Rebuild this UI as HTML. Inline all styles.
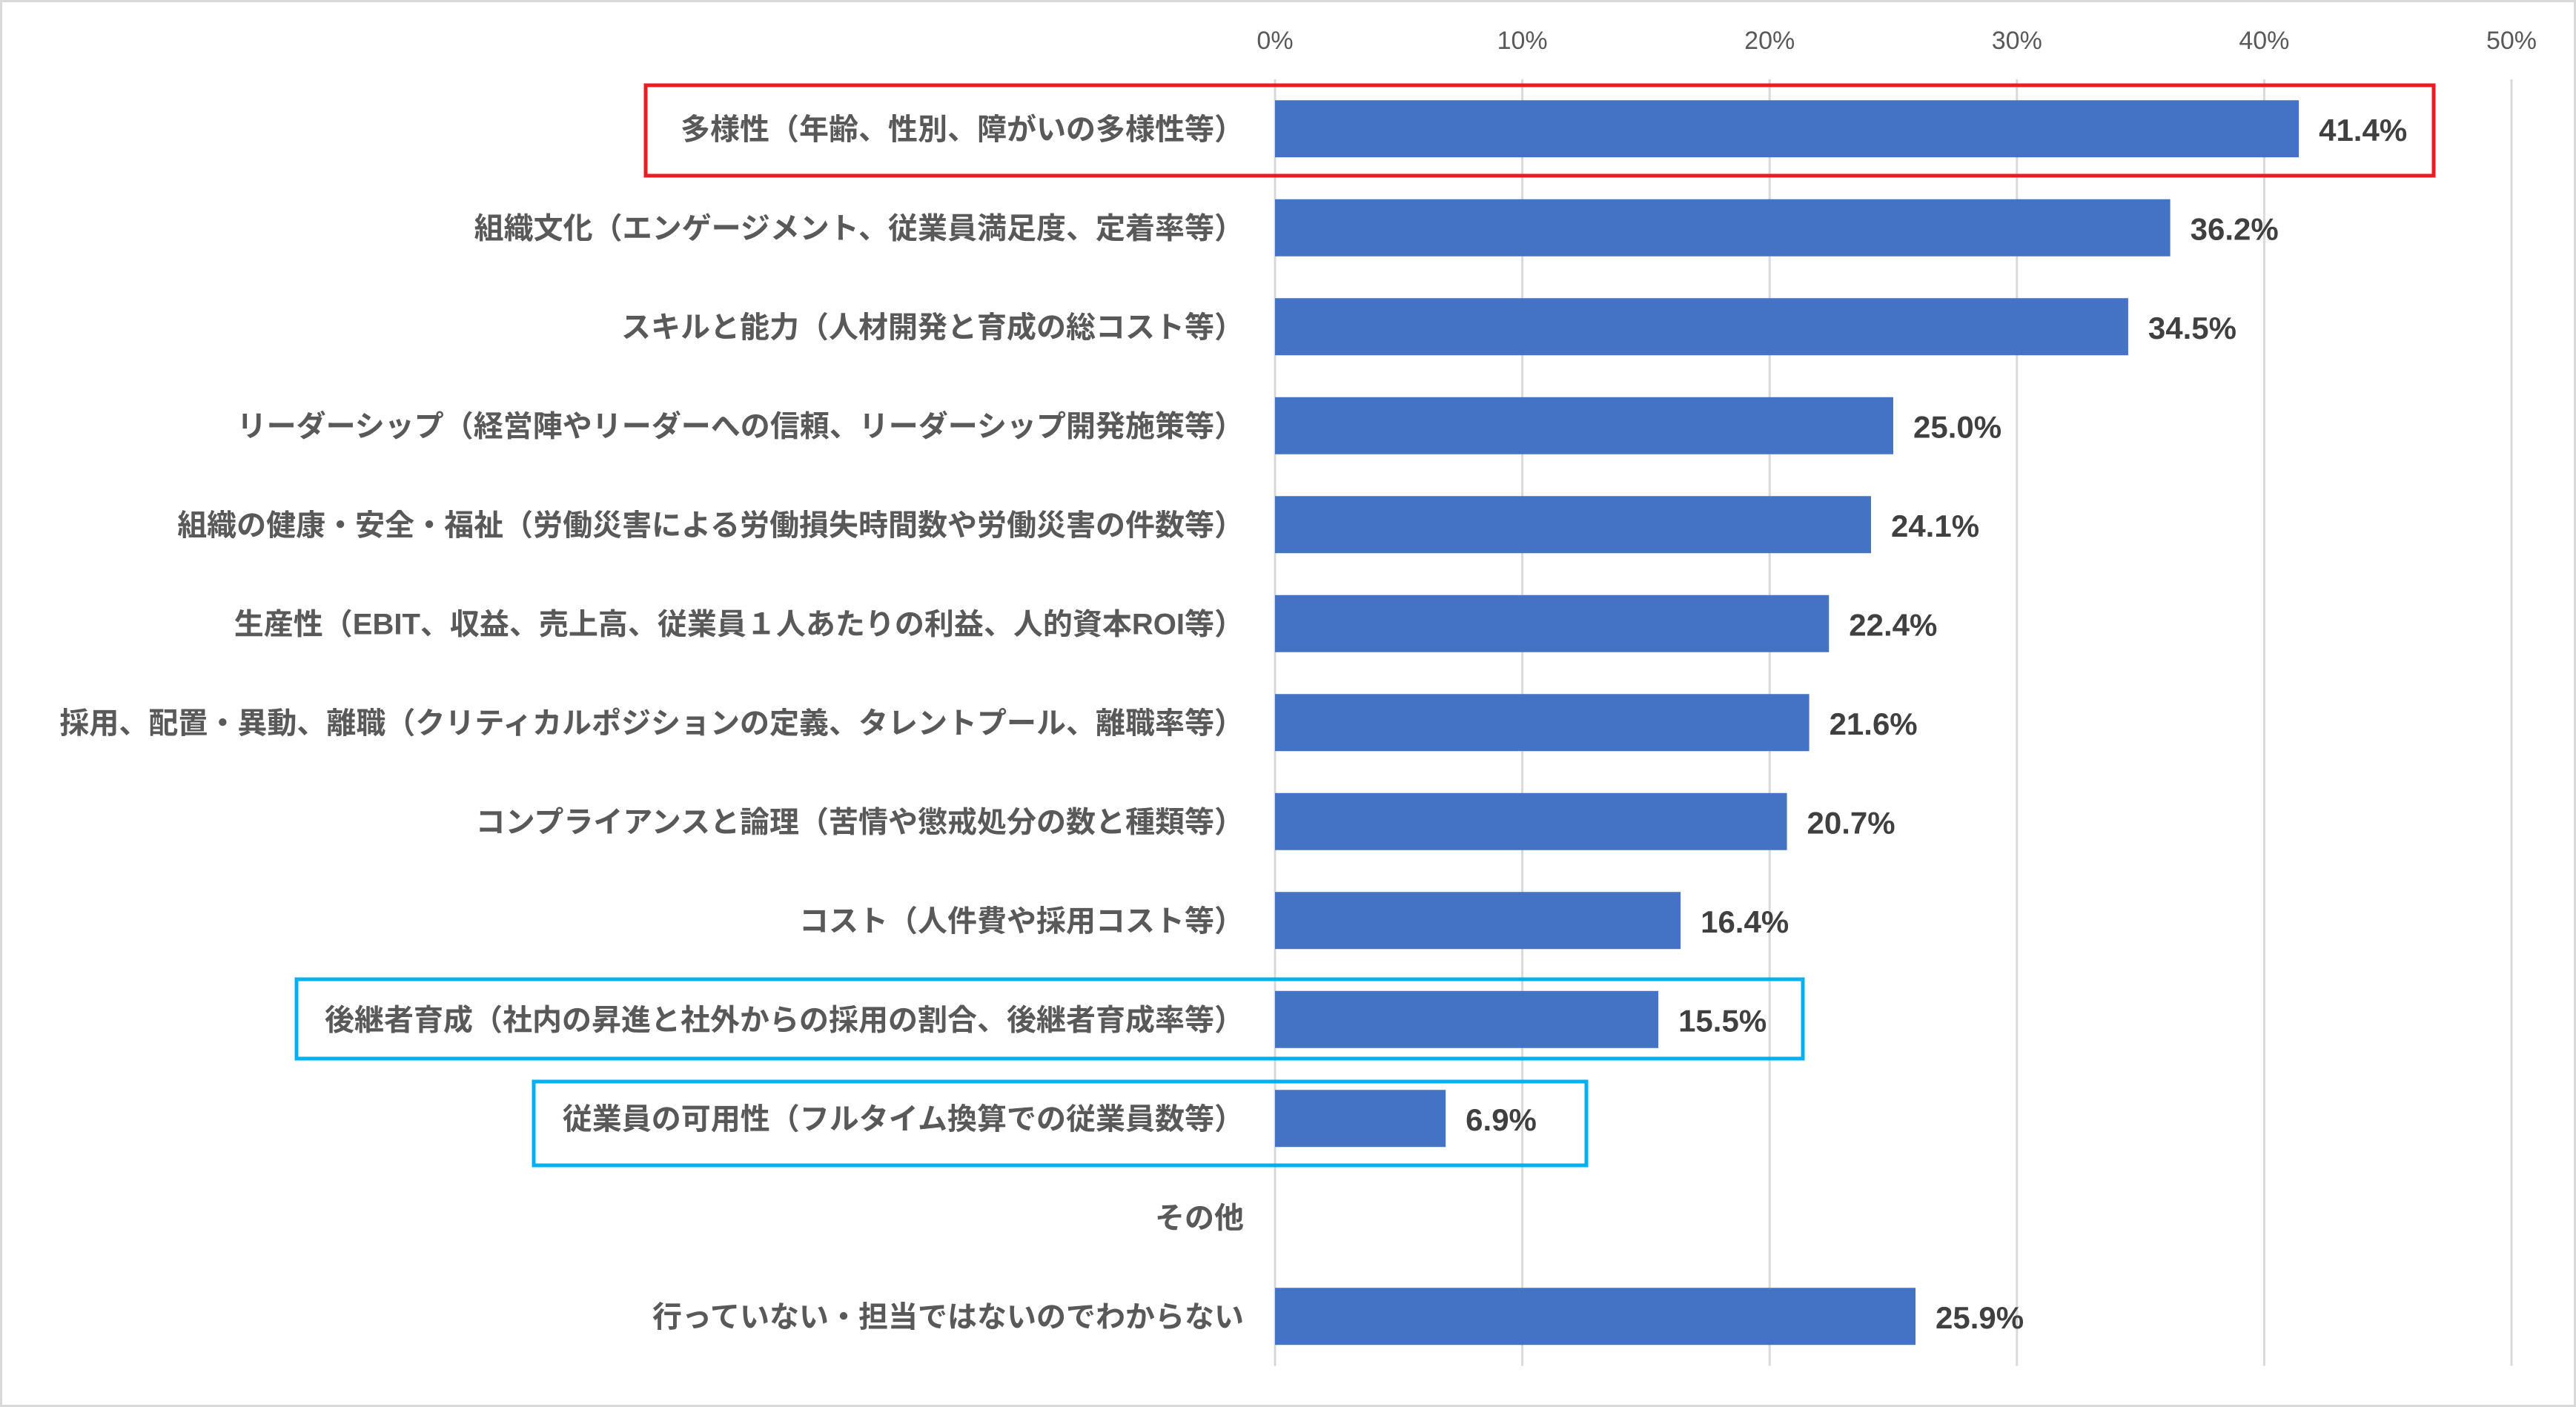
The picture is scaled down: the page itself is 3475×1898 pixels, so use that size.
<!DOCTYPE html>
<html><head><meta charset="utf-8"><style>
html,body{margin:0;padding:0;background:#fff;}
svg{display:block;}
</style></head><body>
<svg id="chart" width="3475" height="1898" viewBox="0 0 3475 1898" xmlns="http://www.w3.org/2000/svg">
<rect x="1.5" y="1.5" width="3472" height="1895" fill="#fff" stroke="#d9d9d9" stroke-width="3"/>
<g id="grid"></g>
<g id="ticks"></g>
<g id="bars"></g>
<g id="labels"></g>
<g id="values"></g>
<rect x="871" y="115" width="2412" height="122" fill="none" stroke="#ED1C24" stroke-width="5"/>
<rect x="400" y="1321" width="2032" height="107" fill="none" stroke="#00B0F0" stroke-width="5"/>
<rect x="720" y="1459" width="1420" height="113" fill="none" stroke="#00B0F0" stroke-width="5"/>
</svg>
<script>
const categories = [
"多様性（年齢、性別、障がいの多様性等）",
"組織文化（エンゲージメント、従業員満足度、定着率等）",
"スキルと能力（人材開発と育成の総コスト等）",
"リーダーシップ（経営陣やリーダーへの信頼、リーダーシップ開発施策等）",
"組織の健康・安全・福祉（労働災害による労働損失時間数や労働災害の件数等）",
"生産性（EBIT、収益、売上高、従業員１人あたりの利益、人的資本ROI等）",
"採用、配置・異動、離職（クリティカルポジションの定義、タレントプール、離職率等）",
"コンプライアンスと論理（苦情や懲戒処分の数と種類等）",
"コスト（人件費や採用コスト等）",
"後継者育成（社内の昇進と社外からの採用の割合、後継者育成率等）",
"従業員の可用性（フルタイム換算での従業員数等）",
"その他",
"行っていない・担当ではないのでわからない"
];
const values = [41.4,36.2,34.5,25.0,24.1,22.4,21.6,20.7,16.4,15.5,6.9,null,25.9];
const valueLabels = ["41.4%","36.2%","34.5%","25.0%","24.1%","22.4%","21.6%","20.7%","16.4%","15.5%","6.9%","","25.9%"];
const ticks = [0,10,20,30,40,50];
const tickLabels = ["0%","10%","20%","30%","40%","50%"];

const NS="http://www.w3.org/2000/svg";
const X0=1720, X1=3388, XMAX=50, YTOP=107, BAND=133.5, BARH=77;
const xs=v=>X0+(v/XMAX)*(X1-X0);
const yc=i=>YTOP+BAND*(i+0.5);
const font='"Liberation Sans","Noto Sans CJK JP",sans-serif';
function mk(tag,attrs,parent){const e=document.createElementNS(NS,tag);for(const k in attrs)e.setAttribute(k,attrs[k]);parent.appendChild(e);return e;}
const grid=document.getElementById('grid'),tk=document.getElementById('ticks'),bars=document.getElementById('bars'),labs=document.getElementById('labels'),vals=document.getElementById('values');
const ybot=YTOP+BAND*categories.length;
ticks.forEach((t,i)=>{
  const l=mk('line',{x1:xs(t),x2:xs(t),y1:YTOP,y2:ybot,stroke:'#d9d9d9','stroke-width':3},grid);
  
  
  const tx=mk('text',{x:xs(t),y:66,'text-anchor':'middle','font-size':34,fill:'#595959','font-family':font},tk);
  tx.textContent=tickLabels[i];
  
  
});
categories.forEach((c,i)=>{
  const y=yc(i);
  const t=mk('text',{x:1678,y:y+14,'text-anchor':'end','font-size':40,'font-weight':'bold',fill:'#595959','font-family':font},labs);
  t.textContent=c;
  
  
  if(values[i]!=null){
    const r=mk('rect',{x:X0,y:y-BARH/2,width:xs(values[i])-X0,height:BARH,fill:'#4472C4'},bars);
    
    
    const v=mk('text',{x:xs(values[i])+27,y:y+16,'font-size':42,'font-weight':'bold',fill:'#404040','font-family':font},vals);
    v.textContent=valueLabels[i];
    
    
  }
});
</script>
</body></html>
